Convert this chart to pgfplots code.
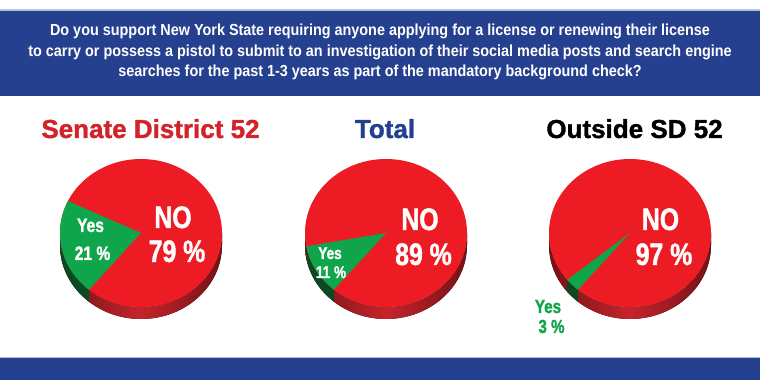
\documentclass[border=0pt]{standalone}
\usepackage{pgfplots}
\pgfplotsset{compat=1.18}
\usepackage{fontspec}
\setmainfont{Liberation Sans}
\newfontfamily\cond{Liberation Sans}[FakeStretch=0.8, BoldFeatures={FakeBold=1.3}]
\newfontfamily\titf{Liberation Sans}[BoldFeatures={FakeBold=1.3}]
\newfontfamily\bann{Liberation Sans}[FakeStretch=0.9]
\definecolor{bannerblue}{HTML}{25408F}
\definecolor{bannerline}{HTML}{B7C0DA}
\definecolor{pred}{HTML}{ED1C24}
\definecolor{pgreen}{HTML}{0FA64B}
\definecolor{gwall}{HTML}{0A4A22}
\definecolor{walldark}{HTML}{751215}
\definecolor{wallmid}{HTML}{C4242B}
\definecolor{titlered}{HTML}{D2232A}
\definecolor{titleblue}{HTML}{243F8F}
% pie: #1 = centre x, #2 = Yes percentage
\newcommand{\pie}[2]{%
  \fill[left color=walldark, right color=walldark, middle color=wallmid]
    (axis cs:#1,147) ++(180:81pt and 74pt)
    arc[start angle=180, end angle=360, x radius=81pt, y radius=74pt]
    -- ++(0,-12pt)
    arc[start angle=360, end angle=180, x radius=81pt, y radius=74pt] -- cycle;
  \fill[gwall]
    (axis cs:#1,147) ++({max(230-3.6*#2,180)}:81pt and 74pt)
    arc[start angle={max(230-3.6*#2,180)}, end angle=230, x radius=81pt, y radius=74pt]
    -- ++(0,-12pt)
    arc[start angle=230, end angle={max(230-3.6*#2,180)}, x radius=81pt, y radius=74pt] -- cycle;
  \fill[pred] (axis cs:#1,147) ellipse[x radius=81pt, y radius=74pt];
  \fill[pgreen] (axis cs:#1,147) -- ++({230-3.6*#2}:81pt and 74pt)
    arc[start angle={230-3.6*#2}, end angle=230, x radius=81pt, y radius=74pt] -- cycle;
}
\begin{document}
\begin{tikzpicture}
\begin{axis}[
  width=760pt, height=380pt, scale only axis,
  xmin=0, xmax=760, ymin=0, ymax=380,
  axis lines=none, clip=true,
]
\fill[white] (axis cs:0,0) rectangle (axis cs:760,380);
% top banner
\fill[bannerblue] (axis cs:0,284) rectangle (axis cs:760,370);
\draw[bannerline, line width=1.2pt] (axis cs:0,370) -- (axis cs:760,370);
\node[anchor=base, inner sep=0, text=white, font=\bann\bfseries\fontsize{16}{16}\selectfont] at (axis cs:380,344)
  {Do you support New York State requiring anyone applying for a license or renewing their license};
\node[anchor=base, inner sep=0, text=white, font=\bann\bfseries\fontsize{16}{16}\selectfont] at (axis cs:380,323.5)
  {to carry or possess a pistol to submit to an investigation of their social media posts and search engine};
\node[anchor=base, inner sep=0, text=white, font=\bann\bfseries\fontsize{16}{16}\selectfont] at (axis cs:380,303)
  {searches for the past 1-3 years as part of the mandatory background check?};
% bottom banner
\fill[bannerblue] (axis cs:0,0) rectangle (axis cs:760,22.5);
\draw[bannerline, line width=1.2pt] (axis cs:0,22.5) -- (axis cs:760,22.5);
% titles
\node[anchor=base, inner sep=0, text=titlered, font=\titf\bfseries\fontsize{26}{26}\selectfont] at (axis cs:150.5,242) {Senate District 52};
\node[anchor=base, inner sep=0, text=titleblue, font=\titf\bfseries\fontsize{26}{26}\selectfont] at (axis cs:385,242) {Total};
\node[anchor=base, inner sep=0, text=black, font=\titf\bfseries\fontsize{26}{26}\selectfont] at (axis cs:634.5,242) {Outside SD 52};
% pies (Yes percentages)
\pie{141}{21}
\pie{386}{11}
\pie{630}{3}
% labels
\node[anchor=base, inner sep=0, text=white, font=\cond\bfseries\fontsize{31}{31}\selectfont] at (axis cs:173,152) {NO};
\node[anchor=base, inner sep=0, text=white, font=\cond\bfseries\fontsize{31}{31}\selectfont] at (axis cs:177,118) {79 \%};
\node[anchor=base, inner sep=0, text=white, font=\cond\bfseries\fontsize{19.5}{19.5}\selectfont] at (axis cs:90.5,148) {Yes};
\node[anchor=base, inner sep=0, text=white, font=\cond\bfseries\fontsize{19.5}{19.5}\selectfont] at (axis cs:92.5,120) {21 \%};
\node[anchor=base, inner sep=0, text=white, font=\cond\bfseries\fontsize{31}{31}\selectfont] at (axis cs:420,150) {NO};
\node[anchor=base, inner sep=0, text=white, font=\cond\bfseries\fontsize{31}{31}\selectfont] at (axis cs:423.5,115) {89 \%};
\node[anchor=base, inner sep=0, text=white, font=\cond\bfseries\fontsize{17}{17}\selectfont] at (axis cs:330,121) {Yes};
\node[anchor=base, inner sep=0, text=white, font=\cond\bfseries\fontsize{17}{17}\selectfont] at (axis cs:331,102) {11 \%};
\node[anchor=base, inner sep=0, text=white, font=\cond\bfseries\fontsize{31}{31}\selectfont] at (axis cs:660.5,150) {NO};
\node[anchor=base, inner sep=0, text=white, font=\cond\bfseries\fontsize{31}{31}\selectfont] at (axis cs:664,115) {97 \%};
\node[anchor=base, inner sep=0, text=pgreen, font=\cond\bfseries\fontsize{19}{19}\selectfont] at (axis cs:548,67) {Yes};
\node[anchor=base, inner sep=0, text=pgreen, font=\cond\bfseries\fontsize{19}{19}\selectfont] at (axis cs:551.5,47) {3 \%};
\end{axis}
\end{tikzpicture}
\end{document}
